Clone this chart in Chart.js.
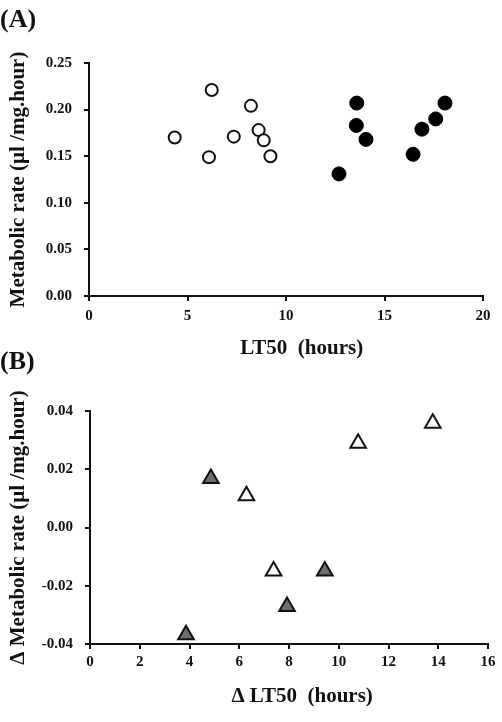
<!DOCTYPE html>
<html>
<head>
<meta charset="utf-8">
<script src="https://cdn.jsdelivr.net/npm/chart.js@4.4.1/dist/chart.umd.min.js"></script>
<style>
  html, body { margin: 0; padding: 0; background: #fff; }
  #wrap { position: relative; width: 502px; height: 722px; overflow: hidden; }
  .panel { position: absolute; left: 0; width: 502px; height: 361px; }
  .lab { position: absolute; left: 0; font: bold 26px "Liberation Serif", "Times New Roman", serif; color: #111; line-height: 1; }
</style>
</head>
<body>
<div id="wrap">
  <div class="panel" style="top:0"><canvas id="cA" width="502" height="361"></canvas></div>
  <div class="panel" style="top:361px"><canvas id="cB" width="502" height="361"></canvas></div>
  <div class="lab" style="top:6px">(A)</div>
  <div class="lab" style="top:348px">(B)</div>
</div>
<script>
// ---- Panel A data ----
const aOpenX = [4.35, 6.23, 6.09, 7.35, 8.22, 8.61, 8.87, 9.21];
const aOpenY = [0.170, 0.221, 0.149, 0.171, 0.204, 0.178, 0.167, 0.150];
const aFilledX = [12.69, 13.59, 13.57, 14.06, 16.45, 16.90, 17.60, 18.07];
const aFilledY = [0.131, 0.207, 0.183, 0.168, 0.152, 0.179, 0.190, 0.207];
const aXTicks = [0, 5, 10, 15, 20];
const aYTicks = [0.00, 0.05, 0.10, 0.15, 0.20, 0.25];

// ---- Panel B data ----
const bGrayX = [3.86, 4.86, 7.92, 9.44];
const bGrayY = [-0.0368, 0.0168, -0.0271, -0.0149];
const bOpenX = [6.29, 7.38, 10.78, 13.78];
const bOpenY = [0.0109, -0.0149, 0.0289, 0.0358];
const bXTicks = [0, 2, 4, 6, 8, 10, 12, 14, 16];
const bYTicks = [-0.04, -0.02, 0.00, 0.02, 0.04];

const SERIF = '"Liberation Serif", "Times New Roman", serif';
const INK = '#111';

function pts(xs, ys) { return xs.map((x, i) => ({ x: x, y: ys[i] })); }

function axis(opts) {
  return {
    type: 'linear',
    min: opts.min, max: opts.max,
    afterBuildTicks: s => { s.ticks = opts.ticks.map(v => ({ value: v })); },
    afterFit: s => { if (opts.w !== undefined) s.width = opts.w; if (opts.h !== undefined) s.height = opts.h; },
    border: { display: true, color: INK, width: 2 },
    grid: { display: true, drawOnChartArea: false, drawTicks: true, tickLength: 5, color: INK, lineWidth: 2 },
    ticks: {
      color: INK, padding: opts.pad,
      font: { family: SERIF, size: 15, weight: 'bold' },
      callback: opts.fmt
    },
    title: {
      display: true, text: opts.title, color: INK,
      font: { family: SERIF, size: 21, weight: 'bold' },
      padding: opts.tpad
    }
  };
}

Chart.defaults.animation = false;

new Chart(document.getElementById('cA'), {
  type: 'scatter',
  data: {
    datasets: [
      { data: pts(aOpenX, aOpenY), pointStyle: 'circle', pointRadius: 6, pointBorderWidth: 2,
        pointBackgroundColor: '#fff', pointBorderColor: INK },
      { data: pts(aFilledX, aFilledY), pointStyle: 'circle', pointRadius: 7, pointBorderWidth: 1,
        pointBackgroundColor: '#000', pointBorderColor: '#000' }
    ]
  },
  options: {
    responsive: false,
    layout: { padding: { left: 0, right: 19, top: 63, bottom: 0 } },
    plugins: { legend: { display: false }, tooltip: { enabled: false } },
    scales: {
      x: axis({ min: 0, max: 20, ticks: aXTicks, h: 65, pad: 6, fmt: v => String(v),
                title: '      LT50  (hours)', tpad: { top: 0, bottom: 0 } }),
      y: axis({ min: 0, max: 0.25, ticks: aYTicks, w: 89, pad: 12, fmt: v => v.toFixed(2),
                title: 'Metabolic rate (µl /mg.hour)', tpad: { top: 6, bottom: 0 } })
    }
  }
});

new Chart(document.getElementById('cB'), {
  type: 'scatter',
  data: {
    datasets: [
      { data: pts(bGrayX, bGrayY), pointStyle: 'triangle', pointRadius: 9, pointBorderWidth: 2,
        pointBackgroundColor: '#6e6e6e', pointBorderColor: INK },
      { data: pts(bOpenX, bOpenY), pointStyle: 'triangle', pointRadius: 9, pointBorderWidth: 2,
        pointBackgroundColor: '#fff', pointBorderColor: INK }
    ]
  },
  options: {
    responsive: false,
    layout: { padding: { left: 0, right: 14, top: 50, bottom: 0 } },
    plugins: { legend: { display: false }, tooltip: { enabled: false } },
    scales: {
      x: axis({ min: 0, max: 16, ticks: bXTicks, h: 78, pad: 4, fmt: v => String(v),
                title: '     Δ LT50  (hours)', tpad: { top: 0, bottom: 13 } }),
      y: axis({ min: -0.04, max: 0.04, ticks: bYTicks, w: 90, pad: 12, fmt: v => v.toFixed(2),
                title: 'Δ Metabolic rate (µl /mg.hour)', tpad: { top: 6, bottom: 0 } })
    }
  }
});
</script>
</body>
</html>
